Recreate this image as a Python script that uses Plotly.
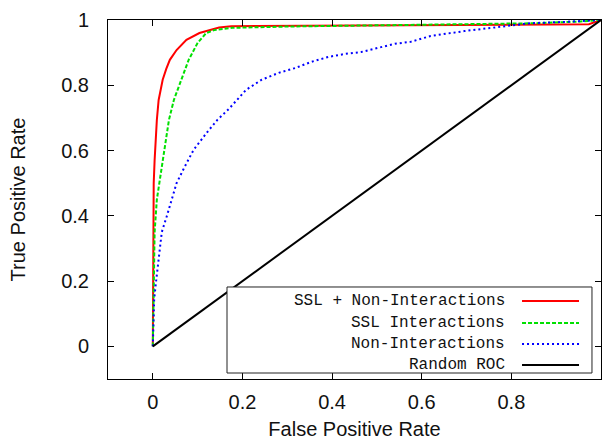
import plotly.graph_objects as go

# ROC curves: false positive rate vs true positive rate
ssl_non_fpr = [0, 0.0005, 0.001, 0.002, 0.004, 0.006, 0.009, 0.013, 0.018, 0.022, 0.030,
               0.038, 0.053, 0.075, 0.104, 0.126, 0.148, 0.175, 0.3, 0.5, 0.7, 0.9, 0.973, 1.0]
ssl_non_tpr = [0, 0.2, 0.4, 0.5, 0.57, 0.63, 0.694, 0.755, 0.79, 0.817, 0.85,
               0.878, 0.908, 0.939, 0.960, 0.969, 0.977, 0.981, 0.982, 0.983, 0.985, 0.986, 0.987, 1.0]

ssl_int_fpr = [0, 0.001, 0.002, 0.004, 0.009, 0.020, 0.031, 0.036, 0.047, 0.064, 0.080,
               0.100, 0.119, 0.137, 0.155, 0.177, 0.3, 0.5, 0.7, 0.85, 0.95, 1.0]
ssl_int_tpr = [0, 0.12, 0.245, 0.35, 0.45, 0.55, 0.654, 0.694, 0.755, 0.817, 0.878,
               0.930, 0.960, 0.969, 0.973, 0.976, 0.980, 0.983, 0.986, 0.990, 0.995, 1.0]

non_int_fpr = [0, 0.003, 0.007, 0.011, 0.015, 0.020, 0.031, 0.042, 0.053, 0.071, 0.091,
               0.120, 0.144, 0.170, 0.208, 0.243, 0.281, 0.318, 0.354, 0.392, 0.429, 0.465,
               0.502, 0.540, 0.575, 0.62, 0.695, 0.768, 0.841, 0.916, 1.0]
non_int_tpr = [0, 0.144, 0.196, 0.245, 0.297, 0.35, 0.398, 0.45, 0.50, 0.55, 0.602,
               0.654, 0.694, 0.728, 0.786, 0.817, 0.838, 0.853, 0.872, 0.887, 0.896, 0.902,
               0.914, 0.927, 0.933, 0.951, 0.966, 0.979, 0.99, 0.994, 1.0]

random_fpr = [0, 1]
random_tpr = [0, 1]

series_names = ["SSL + Non-Interactions", "SSL Interactions", "Non-Interactions", "Random ROC"]
series_colors = ["#ff0000", "#00e000", "#0000ff", "#000000"]
series_dashes = ["solid", "4px,2px", "2px,3px", "solid"]

x_ticks = [0, 0.2, 0.4, 0.6, 0.8]
x_labels = ["0", "0.2", "0.4", "0.6", "0.8"]
y_ticks = [0, 0.2, 0.4, 0.6, 0.8, 1.0]
y_labels = ["0", "0.2", "0.4", "0.6", "0.8", "1"]

curves = [(ssl_non_fpr, ssl_non_tpr), (ssl_int_fpr, ssl_int_tpr),
          (non_int_fpr, non_int_tpr), (random_fpr, random_tpr)]

fig = go.Figure()
for (xs, ys), name, color, dash in zip(curves, series_names, series_colors, series_dashes):
    fig.add_trace(go.Scatter(x=xs, y=ys, mode="lines", name=name,
                             line=dict(color=color, width=2, dash=dash),
                             showlegend=False))

sans = "Liberation Sans, Arial, Helvetica, sans-serif"
mono = "Liberation Mono, Courier New, monospace"
ink = "#111111"

axis_common = dict(showline=True, linecolor="#000000", linewidth=1, mirror="ticks",
                   ticks="inside", ticklen=6, tickwidth=1, tickcolor="#000000",
                   showgrid=False, zeroline=False,
                   tickfont=dict(family=sans, size=20, color=ink))

fig.update_xaxes(range=[-0.1, 1.0], tickvals=x_ticks, ticktext=x_labels,
                 title=dict(text="False Positive Rate", standoff=17,
                            font=dict(family=sans, size=20, color=ink)),
                 ticklabelstandoff=5, **axis_common)
fig.update_yaxes(range=[-0.1, 1.0], tickvals=y_ticks, ticktext=y_labels,
                 title=dict(text="True Positive Rate", standoff=30,
                            font=dict(family=sans, size=20, color=ink)),
                 ticklabelstandoff=14, **axis_common)

# Key box in the lower right, text right-aligned with line samples after it
box_x0, box_x1 = 0.2414, 0.9817
box_y0, box_y1 = 0.0167, 0.2563
text_right = 0.8093
sample_x0, sample_x1 = 0.8398, 0.9554
row_y = [0.2173, 0.1560, 0.0975, 0.0390]

shapes = [dict(type="rect", xref="paper", yref="paper", x0=box_x0, x1=box_x1,
               y0=box_y0, y1=box_y1, fillcolor="#ffffff",
               line=dict(color="#222222", width=1), layer="above")]
annotations = []
for name, color, dash, yy in zip(series_names, series_colors, series_dashes, row_y):
    shapes.append(dict(type="line", xref="paper", yref="paper", x0=sample_x0, x1=sample_x1,
                       y0=yy, y1=yy, line=dict(color=color, width=2, dash=dash),
                       layer="above"))
    annotations.append(dict(text=name, xref="paper", yref="paper", x=text_right, y=yy,
                            xanchor="right", yanchor="middle", showarrow=False,
                            font=dict(family=mono, size=16, color=ink)))

fig.update_layout(width=602, height=440,
                  margin=dict(l=108, r=1, t=20, b=61, autoexpand=False),
                  plot_bgcolor="#ffffff", paper_bgcolor="#ffffff",
                  shapes=shapes, annotations=annotations, showlegend=False)

fig.write_html("out.html")
